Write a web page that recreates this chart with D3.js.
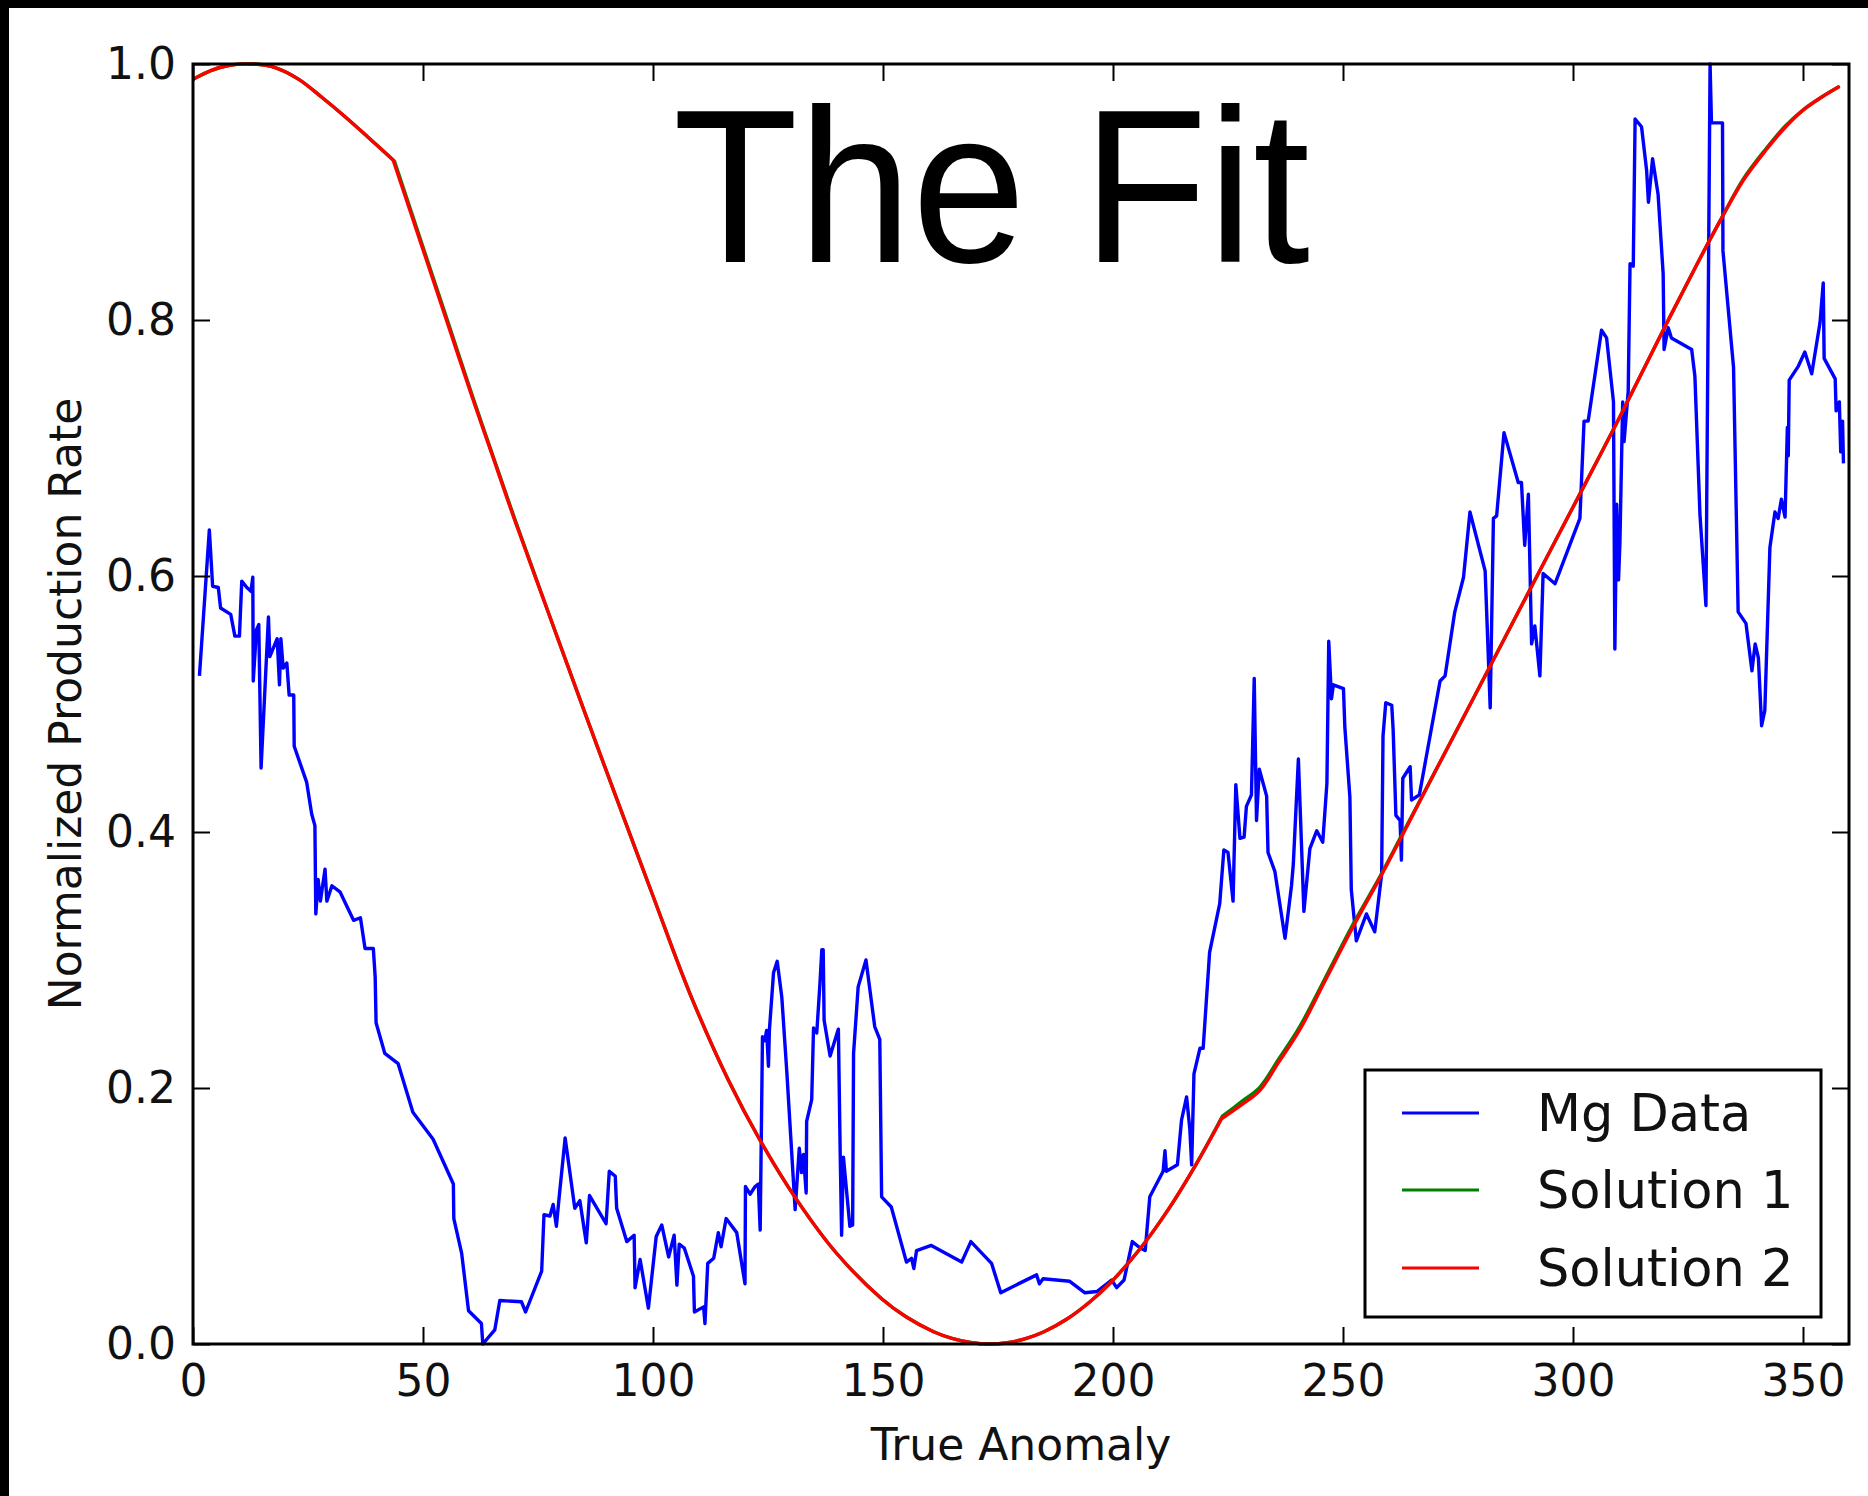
<!DOCTYPE html>
<html>
<head>
<meta charset="utf-8">
<script src="https://cdn.jsdelivr.net/npm/d3@7/dist/d3.min.js"></script>
<style>
  html, body { margin: 0; padding: 0; background: #fff; }
  svg { display: block; }
</style>
</head>
<body>
<div id="chart"></div>
<script>
// Mg data (true anomaly in degrees, normalized rate)
const mgAnomaly = [
  1.4, 3.55, 4.27, 5.5, 6.0, 8.2, 9.1, 10.1, 10.6, 11.7, 12.6, 13.0, 13.1, 13.8, 14.3, 14.8,
  16.4, 16.7, 18.3, 18.8, 19.1, 19.6, 20.4, 20.9, 21.9, 22.0, 24.7, 25.8, 26.5, 26.7, 27.2,
  27.7, 28.7, 29.1, 30.2, 32.0, 34.9, 36.4, 37.4, 39.2, 39.6, 39.8, 41.7, 44.6, 47.8, 52.2,
  56.6, 56.7, 58.4, 59.9, 62.7, 63.0, 65.6, 66.7, 71.4, 72.3, 75.8, 76.3, 77.6, 78.3, 79.0,
  79.5, 80.9, 83.0, 84.1, 85.5, 86.2, 89.8, 90.5, 91.8, 92.1, 94.3, 95.9, 96.1, 97.2, 99.0,
  100.7, 101.9, 103.4, 104.6, 105.2, 105.7, 106.8, 108.8, 109.0, 111.0, 111.3, 111.9, 113.2,
  114.2, 114.8, 115.9, 118.2, 120.0, 120.1, 121.1, 122.2, 122.9, 123.3, 123.8, 124.3, 124.7,
  125.1, 125.3, 126.2, 127.0, 128.0, 129.1, 130.9, 131.8, 132.3, 132.7, 133.3, 133.4, 134.5,
  134.9, 135.6, 136.3, 136.7, 137.0, 137.2, 138.5, 140.3, 140.7, 141.0, 141.4, 142.2, 142.8,
  143.4, 143.6, 144.6, 146.3, 148.2, 149.3, 149.7, 151.8, 155.1, 156.2, 156.7, 157.3, 160.5,
  167.1, 169.1, 173.6, 175.6, 178.3, 183.4, 184.0, 184.8, 190.6, 193.9, 196.5, 199.7, 200.8,
  202.4, 204.2, 205.9, 207.0, 208.0, 210.9, 211.3, 211.6, 214.0, 214.9, 216.0, 216.7, 217.1,
  217.6, 218.9, 219.6, 221.0, 223.2, 224.1, 225.0, 226.1, 226.7, 227.6, 228.5, 229.0, 230.1,
  230.7, 231.2, 231.8, 233.4, 233.7, 235.2, 237.4, 238.8, 239.2, 240.3, 241.5, 242.8, 244.3,
  245.6, 246.5, 246.9, 247.5, 247.9, 250.1, 250.4, 251.5, 251.8, 252.9, 255.1, 256.9, 258.4,
  258.7, 259.3, 260.6, 260.9, 261.5, 262.4, 262.7, 263.0, 264.6, 264.9, 266.6, 271.1, 272.2,
  274.3, 276.2, 277.6, 280.9, 282.0, 282.7, 283.4, 285.0, 288.1, 288.8, 289.5, 290.3, 291.0,
  291.7, 292.8, 293.5, 296.1, 301.5, 302.4, 303.3, 306.2, 307.3, 308.8, 309.1, 309.5, 309.9,
  310.2, 310.8, 311.1, 312.0, 312.4, 313.1, 313.5, 314.9, 316.0, 316.4, 317.3, 318.5, 319.6,
  319.8, 320.7, 321.4, 325.8, 326.5, 327.6, 328.9, 329.8, 330.1, 332.5, 332.6, 334.9, 335.9,
  337.6, 338.9, 339.6, 340.3, 341.0, 341.7, 342.8, 343.9, 344.6, 345.3, 346.1, 346.6, 346.8,
  347.0, 349.0, 350.4, 351.9, 353.7, 354.4, 354.6, 357.0, 357.2, 357.9, 358.2, 358.6, 358.8
];
const mgRate = [
  0.522, 0.636, 0.592, 0.591, 0.575, 0.570, 0.553, 0.553, 0.596, 0.591, 0.588, 0.599, 0.518, 0.558, 0.562, 0.450,
  0.568, 0.537, 0.551, 0.515, 0.551, 0.528, 0.532, 0.507, 0.507, 0.467, 0.439, 0.414, 0.405, 0.336, 0.363,
  0.346, 0.371, 0.346, 0.358, 0.353, 0.331, 0.333, 0.309, 0.309, 0.287, 0.251, 0.227, 0.219, 0.181, 0.160,
  0.125, 0.098, 0.071, 0.026, 0.016, 0.000, 0.011, 0.034, 0.033, 0.025, 0.057, 0.101, 0.100, 0.109, 0.092,
  0.111, 0.161, 0.106, 0.112, 0.079, 0.116, 0.094, 0.135, 0.131, 0.106, 0.080, 0.085, 0.044, 0.066, 0.028,
  0.084, 0.093, 0.068, 0.085, 0.046, 0.078, 0.075, 0.053, 0.025, 0.029, 0.016, 0.063, 0.067,
  0.087, 0.076, 0.098, 0.087, 0.047, 0.123, 0.117, 0.123, 0.125, 0.089, 0.240, 0.237, 0.245,
  0.217, 0.245, 0.290, 0.299, 0.271, 0.212, 0.105, 0.153, 0.134, 0.148, 0.118, 0.174, 0.191,
  0.247, 0.243, 0.282, 0.308, 0.308, 0.253, 0.225, 0.246, 0.148, 0.085, 0.146, 0.115, 0.092,
  0.093, 0.227, 0.279, 0.300, 0.248, 0.238, 0.115, 0.107, 0.064, 0.067, 0.059, 0.073, 0.077,
  0.064, 0.080, 0.063, 0.040, 0.045, 0.054, 0.047, 0.051, 0.049, 0.040, 0.041, 0.050, 0.044,
  0.050, 0.080, 0.075, 0.073, 0.115, 0.135, 0.151, 0.135, 0.140, 0.175, 0.193, 0.168, 0.140,
  0.211, 0.231, 0.231, 0.306, 0.344, 0.386, 0.384, 0.346, 0.437, 0.395, 0.396, 0.420, 0.429,
  0.520, 0.409, 0.449, 0.428, 0.384, 0.369, 0.317, 0.358, 0.375, 0.457, 0.338, 0.387, 0.401,
  0.392, 0.438, 0.549, 0.504, 0.515, 0.512, 0.482, 0.427, 0.355, 0.315, 0.336, 0.322, 0.367,
  0.475, 0.501, 0.499, 0.480, 0.413, 0.409, 0.378, 0.442, 0.451, 0.425, 0.429, 0.518, 0.522,
  0.572, 0.599, 0.650, 0.604, 0.497, 0.645, 0.647, 0.712, 0.673, 0.673, 0.624, 0.664, 0.547,
  0.561, 0.522, 0.602, 0.594, 0.645, 0.721, 0.721, 0.792, 0.786, 0.736, 0.543, 0.656, 0.597,
  0.626, 0.736, 0.705, 0.744, 0.844, 0.842, 0.957, 0.951, 0.917, 0.892, 0.926, 0.898, 0.836,
  0.777, 0.794, 0.786, 0.777, 0.756, 0.648, 0.577, 1.000, 0.954, 0.954, 0.854, 0.763, 0.572,
  0.563, 0.526, 0.547, 0.536, 0.483, 0.495, 0.622, 0.650, 0.645, 0.660, 0.646, 0.716, 0.694,
  0.753, 0.764, 0.775, 0.758, 0.798, 0.829, 0.770, 0.754, 0.729, 0.736, 0.697, 0.721, 0.688
];

// Solution 1 (green) - three smooth pieces joined at the two kinks
const sol1Anomaly = [
  0, 4, 8, 13, 18, 23, 28, 33, 38, 43.8,
  50, 55, 60.9, 65, 70, 77.6, 85, 92, 100, 108, 116.4, 123.3, 131, 140, 149.7, 155, 161, 165,
  169, 173.3, 177, 181, 185, 190, 195, 199.3, 205.8, 212, 218, 223.8,
  228, 231.9, 236, 240.6, 246, 252.2, 258, 262.4, 270, 282.2, 290, 302.5, 310, 319.6, 327.6,
  332, 337, 342, 346, 350, 354, 357.7
];
const sol1Rate = [
  0.988, 0.995, 0.999, 1.000, 0.997, 0.988, 0.974, 0.959, 0.943, 0.924,
  0.857, 0.803, 0.739, 0.696, 0.644, 0.568, 0.495, 0.427, 0.350, 0.274, 0.206, 0.159, 0.114, 0.0705, 0.0354, 0.0213, 0.0096, 0.0044,
  0.0012, 0.000, 0.001, 0.0042, 0.0096, 0.0195, 0.033, 0.0473, 0.074, 0.105, 0.140, 0.178,
  0.1895, 0.2005, 0.2225, 0.248, 0.285, 0.328, 0.365, 0.395, 0.447, 0.531, 0.585, 0.671, 0.723, 0.792, 0.848,
  0.8776, 0.910, 0.934, 0.951, 0.964, 0.974, 0.982
];
const sol1Kinks = [43.8, 223.8];

// Solution 2 (red)
const sol2Anomaly = [
  0, 4, 8, 13, 18, 23, 28, 33, 38, 43.5,
  50, 55, 60.9, 65, 70, 77.6, 85, 92, 100, 108, 116.4, 123.3, 131, 140, 149.7, 155, 161, 165,
  169, 173.3, 177, 181, 185, 190, 195, 199.3, 205.8, 212, 218, 223.6,
  228, 231.9, 236, 240.6, 246, 252.2, 258, 262.4, 270, 282.2, 290, 302.5, 310, 319.6, 327.6,
  332, 337, 342, 346, 350, 354, 357.7
];
const sol2Rate = [
  0.988, 0.995, 0.999, 1.000, 0.997, 0.988, 0.974, 0.959, 0.943, 0.925,
  0.855, 0.801, 0.7375, 0.695, 0.643, 0.568, 0.495, 0.427, 0.350, 0.274, 0.206, 0.159, 0.114, 0.0705, 0.0354, 0.0213, 0.0096, 0.0044,
  0.0012, 0.000, 0.001, 0.0042, 0.0096, 0.0195, 0.033, 0.0473, 0.074, 0.105, 0.140, 0.176,
  0.187, 0.198, 0.220, 0.2455, 0.283, 0.326, 0.364, 0.394, 0.447, 0.531, 0.585, 0.671, 0.723, 0.792, 0.848,
  0.8776, 0.909, 0.933, 0.950, 0.964, 0.974, 0.982
];
const sol2Kinks = [43.5, 223.6];

const xTicks = [0, 50, 100, 150, 200, 250, 300, 350];
const yTicks = [0.0, 0.2, 0.4, 0.6, 0.8, 1.0];
const legendLabels = ["Mg Data", "Solution 1", "Solution 2"];
const seriesColors = ["#0000ff", "#008000", "#ff0000"];

const titleText = "The Fit";
const xLabel = "True Anomaly";
const yLabel = "Normalized Production Rate";

// Page setup
const width = 1868;
const height = 1496;
const plot = { left: 193, right: 1849, top: 64, bottom: 1344 };
const font = "'DejaVu Sans', sans-serif";

const svg = d3
  .select("#chart")
  .append("svg")
  .attr("width", width)
  .attr("height", height);

// black frame on top and left, like the screenshot
svg.append("rect").attr("width", width).attr("height", height).attr("fill", "#000");
svg.append("rect")
  .attr("x", 9)
  .attr("y", 8)
  .attr("width", width - 9)
  .attr("height", height - 8)
  .attr("fill", "#fff");

// Scales
const xScale = d3.scaleLinear().domain([0, 360]).range([plot.left, plot.right]);
const yScale = d3.scaleLinear().domain([0, 1]).range([plot.bottom, plot.top]);

svg.append("defs")
  .append("clipPath")
  .attr("id", "plot-clip")
  .append("rect")
  .attr("x", plot.left)
  .attr("y", plot.top - 2)
  .attr("width", plot.right - plot.left)
  .attr("height", plot.bottom - plot.top + 4);

// Lines
const toPoints = (xs, ys) => xs.map((x, i) => ({ x: x, y: ys[i] }));

const lineStraight = d3.line()
  .x((d) => xScale(d.x))
  .y((d) => yScale(d.y));

const lineSmooth = d3.line()
  .x((d) => xScale(d.x))
  .y((d) => yScale(d.y))
  .curve(d3.curveCatmullRom.alpha(0.5));

// smooth between kinks, sharp at the kinks
function kinkedPath(xs, ys, kinks) {
  const pts = toPoints(xs, ys);
  const cuts = kinks.map((k) => xs.indexOf(k));
  const pieces = [];
  let start = 0;
  cuts.forEach((c) => {
    pieces.push(pts.slice(start, c + 1));
    start = c;
  });
  pieces.push(pts.slice(start));
  return pieces.map((p) => lineSmooth(p)).join("");
}

const lines = svg.append("g").attr("clip-path", "url(#plot-clip)");

lines.append("path")
  .datum(toPoints(mgAnomaly, mgRate))
  .attr("fill", "none")
  .attr("stroke", seriesColors[0])
  .attr("stroke-width", 3.4)
  .attr("stroke-linejoin", "round")
  .attr("d", lineStraight);

lines.append("path")
  .attr("fill", "none")
  .attr("stroke", seriesColors[1])
  .attr("stroke-width", 3.4)
  .attr("stroke-linecap", "round")
  .attr("d", kinkedPath(sol1Anomaly, sol1Rate, sol1Kinks));

lines.append("path")
  .attr("fill", "none")
  .attr("stroke", seriesColors[2])
  .attr("stroke-width", 3.4)
  .attr("stroke-linecap", "round")
  .attr("d", kinkedPath(sol2Anomaly, sol2Rate, sol2Kinks));

// Axes (ticks point inward on all four sides)
const tickLen = 17;

function styleAxis(sel) {
  sel.select(".domain").remove();
  sel.selectAll(".tick line").attr("stroke", "#000").attr("stroke-width", 2);
  sel.selectAll(".tick text")
    .attr("fill", "#111")
    .style("font-family", font)
    .style("font-size", "44px");
}

svg.append("g")
  .attr("transform", `translate(0,${plot.bottom})`)
  .call(d3.axisBottom(xScale).tickValues(xTicks).tickSizeInner(-tickLen).tickSizeOuter(0).tickPadding(21))
  .call(styleAxis);

svg.append("g")
  .attr("transform", `translate(0,${plot.top})`)
  .call(d3.axisTop(xScale).tickValues(xTicks).tickSizeInner(-tickLen).tickSizeOuter(0).tickFormat(""))
  .call(styleAxis);

svg.append("g")
  .attr("transform", `translate(${plot.left},0)`)
  .call(d3.axisLeft(yScale).tickValues(yTicks).tickSizeInner(-tickLen).tickSizeOuter(0).tickPadding(17).tickFormat(d3.format(".1f")))
  .call(styleAxis);

svg.append("g")
  .attr("transform", `translate(${plot.right},0)`)
  .call(d3.axisRight(yScale).tickValues(yTicks).tickSizeInner(-tickLen).tickSizeOuter(0).tickFormat(""))
  .call(styleAxis);

// Spines
svg.append("rect")
  .attr("x", plot.left)
  .attr("y", plot.top)
  .attr("width", plot.right - plot.left)
  .attr("height", plot.bottom - plot.top)
  .attr("fill", "none")
  .attr("stroke", "#000")
  .attr("stroke-width", 3);

// Axis labels
svg.append("text")
  .attr("x", (plot.left + plot.right) / 2)
  .attr("y", 1460)
  .attr("text-anchor", "middle")
  .attr("fill", "#111")
  .style("font-family", font)
  .style("font-size", "44px")
  .text(xLabel);

svg.append("text")
  .attr("transform", `translate(81,${(plot.top + plot.bottom) / 2}) rotate(-90)`)
  .attr("text-anchor", "middle")
  .attr("fill", "#111")
  .style("font-family", font)
  .style("font-size", "44px")
  .text(yLabel);

// Big title inside the plot
svg.append("text")
  .attr("x", 673)
  .attr("y", 262)
  .attr("fill", "#000")
  .attr("textLength", 637)
  .attr("lengthAdjust", "spacingAndGlyphs")
  .style("font-family", "'Liberation Sans', Arial, sans-serif")
  .style("font-size", "219px")
  .text(titleText);

// Legend
const legend = svg.append("g");
legend.append("rect")
  .attr("x", 1365)
  .attr("y", 1070)
  .attr("width", 456)
  .attr("height", 247)
  .attr("fill", "#fff")
  .attr("stroke", "#000")
  .attr("stroke-width", 3);

const legendRowY = [1113, 1190, 1268];
legendLabels.forEach((label, i) => {
  legend.append("line")
    .attr("x1", 1402)
    .attr("x2", 1479)
    .attr("y1", legendRowY[i])
    .attr("y2", legendRowY[i])
    .attr("stroke", seriesColors[i])
    .attr("stroke-width", 3);
  legend.append("text")
    .attr("x", 1537)
    .attr("y", legendRowY[i] + 18)
    .attr("fill", "#111")
    .style("font-family", font)
    .style("font-size", "51px")
    .text(label);
});
</script>
</body>
</html>
